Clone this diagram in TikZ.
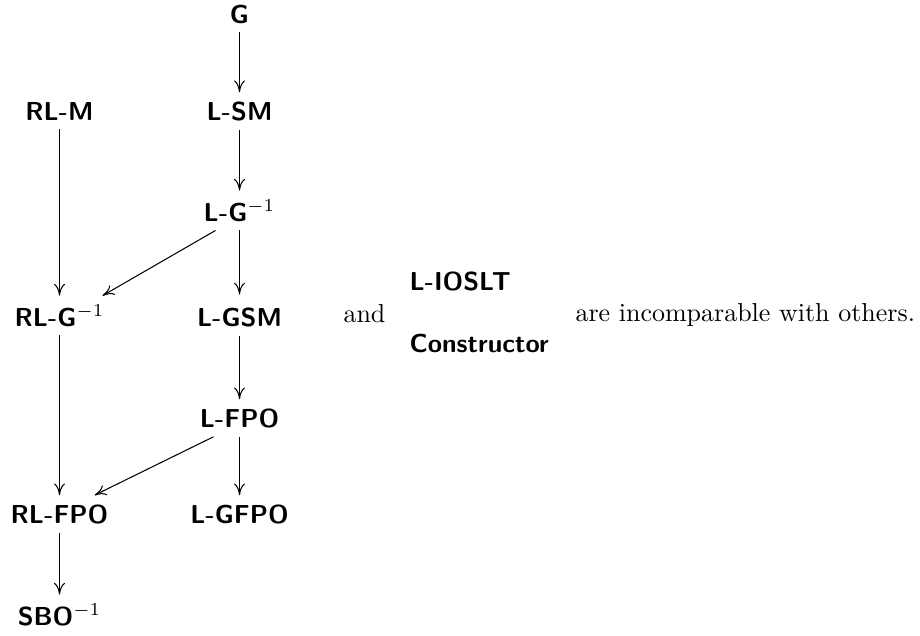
\documentclass[tikz,border=0pt]{standalone}
\usetikzlibrary{arrows.meta,calc}
\begin{document}
\begin{tikzpicture}[x=0.385pt,y=-0.385pt,
  lbl/.style={font=\sffamily\bfseries, anchor=base},
  arr/.style={-{To[length=4.5pt,width=4.2pt]}, line width=0.4pt},
  txt/.style={anchor=base west, inner sep=0pt},
  side/.style={font=\sffamily\bfseries, anchor=base west, inner sep=0pt}]
\useasboundingbox (0,0) rectangle (920,635);
% left part: the diagram
\node[lbl] (g)    at (239.5,23)  {G};
\node[lbl] (rlm)  at (59.5,120)  {RL-M};
\node[lbl] (lsm)  at (239.5,120) {L-SM};
\node[lbl] (lg)   at (239.5,221) {L-G$^{-1}$};
\node[lbl] (rlg)  at (59.5,326)  {RL-G$^{-1}$};
\node[lbl, text height=8.6pt] (lgsm) at (239.5,326) {L-GSM};
\node[lbl] (lf)   at (239.5,427) {L-FPO};
\node[lbl] (rlf)  at (59.5,523)  {RL-FPO};
\node[lbl] (lgf)  at (239.5,523) {L-GFPO};
\node[lbl] (sbo)  at (59.5,625)  {SBO$^{-1}$};
\draw[arr] (g) -- (lsm);
\draw[arr] (lsm) -- (lg);
\draw[arr] (lg) -- (lgsm);
\draw[arr] (rlm) -- (rlg);
\draw[arr] ($(lg.south)+(-24,0)$) -- ($(rlg.north)+(43,0)$);
\draw[arr] (lgsm) -- (lf);
\draw[arr] (rlg) -- (rlf);
\draw[arr] (lf) -- (lgf);
\draw[arr] ($(lf.south)+(-26,0)$) -- ($(rlf.north)+(35,0)$);
\draw[arr] (rlf) -- (sbo);
% right part: the remark
\node[txt] (and) at (343,322) {and};
\node[side] (ioslt) at (409,290) {L-IOSLT};
\node[side] (cons) at (409,352) {Constructor};
\node[txt] (rest) at (575,321) {are incomparable with others.};
\end{tikzpicture}
\end{document}
